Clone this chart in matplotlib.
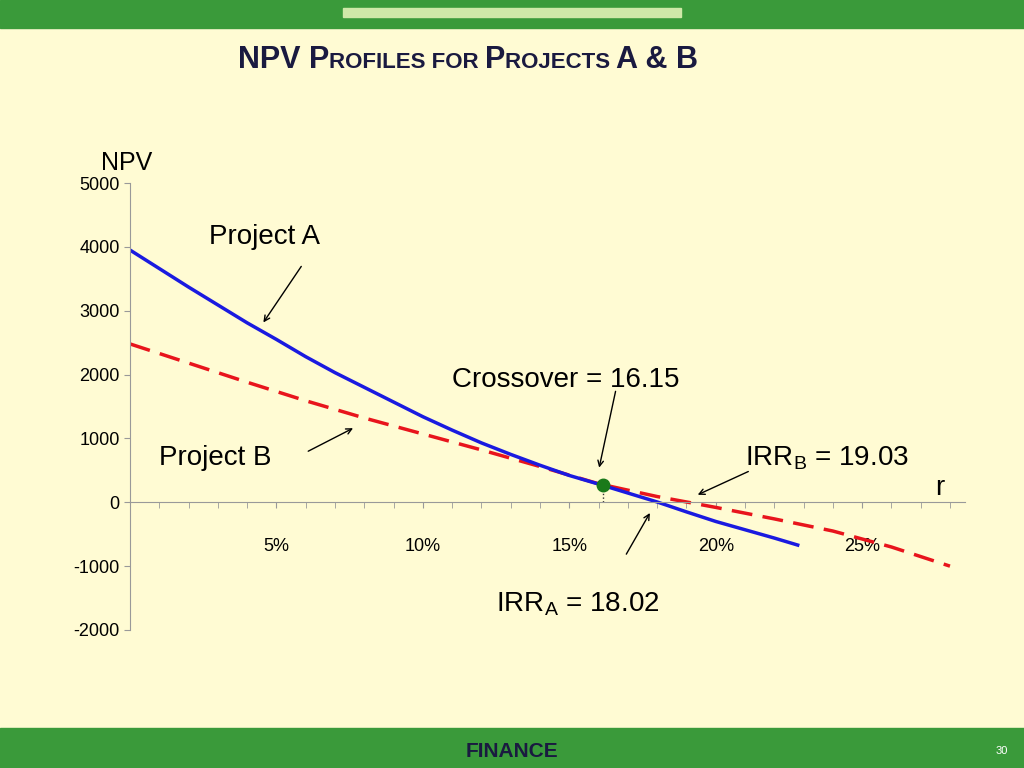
import matplotlib.pyplot as plt
from matplotlib.patches import Rectangle

plt.rcParams["font.family"] = "Liberation Sans"

rate_a = [0, 1, 2, 3, 4, 5, 6, 7, 8, 9, 10, 11, 12, 13, 14, 15, 16, 17, 18, 19, 20, 21, 22, 22.8]
npv_a = [3950, 3660, 3370, 3090, 2810, 2550, 2280, 2030, 1800, 1570, 1340, 1130, 930, 750,
         580, 420, 285, 145, 5, -150, -300, -430, -560, -670]
rate_b = [0, 2, 4, 6, 8, 10, 12, 14, 16, 18, 20, 22, 24, 26, 28]
npv_b = [2480, 2180, 1880, 1590, 1320, 1070, 820, 560, 290, 90, -80, -260, -450, -700, -1000]
crossover = (16.15, 266)
x_ticks = [5, 10, 15, 20, 25]
y_ticks = [-2000, -1000, 0, 1000, 2000, 3000, 4000, 5000]

fig = plt.figure(figsize=(10.24, 7.68), dpi=100)
fig.patch.set_facecolor("#fffbd3")
fig.patches.append(Rectangle((0, 0.963), 1, 0.037, transform=fig.transFigure, color="#3a9a3a"))
fig.patches.append(Rectangle((0, 0), 1, 0.052, transform=fig.transFigure, color="#3a9a3a"))
fig.patches.append(Rectangle((0.335, 0.978), 0.33, 0.012, transform=fig.transFigure, color="#cfe8a8"))

# small-caps title built from pieces
navy = "#1a1a40"
pieces = [("NPV P", 22), ("ROFILES FOR ", 16), ("P", 22), ("ROJECTS ", 16), ("A & B", 22)]
fig.canvas.draw()
x = 0.232
for txt, size in pieces:
    t = fig.text(x, 0.923, txt, fontsize=size, fontweight="bold", color=navy,
                 ha="left", va="baseline", family="DejaVu Sans Condensed" if False else "Liberation Sans")
    t.set_y(0.912)
    bb = t.get_window_extent(renderer=fig.canvas.get_renderer())
    x += bb.width / fig.bbox.width
fig.text(0.5, 0.022, "FINANCE", fontsize=15, fontweight="bold", color=navy, ha="center", va="center")
fig.text(0.978, 0.022, "30", fontsize=8, color="white", ha="center", va="center")

ax = fig.add_axes([0.127, 0.1797, 0.815, 0.582])
ax.set_facecolor("none")
ax.set_xlim(0, 28.5)
ax.set_ylim(-2000, 5000)
for s in ["top", "right"]:
    ax.spines[s].set_visible(False)
ax.spines["bottom"].set_position(("data", 0))
ax.spines["bottom"].set_color("#999999")
ax.spines["left"].set_color("#999999")
ax.set_xticks(range(1, 29), minor=True)
ax.set_xticks(x_ticks)
ax.set_xticklabels([f"{t}%" for t in x_ticks], fontsize=13)
ax.tick_params(axis="x", which="both", direction="out", length=4, color="#999999", pad=22)
ax.set_yticks(y_ticks)
ax.set_yticklabels(y_ticks, fontsize=13)
ax.tick_params(axis="y", length=4, color="#999999")

ax.plot(rate_b, npv_b, color="#e8141c", lw=2.5, ls=(0, (6, 3)))
ax.plot(rate_a, npv_a, color="#1a1ae0", lw=2.5)
ax.plot([crossover[0]] * 2, [0, crossover[1]], color="#333333", lw=1, ls=":")
ax.plot(*crossover, "o", color="#1a7a1a", ms=9, zorder=5)

ax.text(-1.0, 5200, "NPV", fontsize=18)
ax.text(27.5, 120, "r", fontsize=20)
arw = dict(arrowstyle="->", color="black", lw=1)
ax.text(2.7, 4050, "Project A", fontsize=20)
ax.annotate("", xy=(4.5, 2780), xytext=(5.9, 3730), arrowprops=arw)
ax.text(1, 580, "Project B", fontsize=20)
ax.annotate("", xy=(7.7, 1180), xytext=(6, 780), arrowprops=arw)
ax.text(11, 1800, "Crossover = 16.15", fontsize=20)
ax.annotate("", xy=(16.0, 500), xytext=(16.6, 1780), arrowprops=arw)
ax.text(21, 580, "IRR$_\\mathregular{B}$ = 19.03", fontsize=20)
ax.annotate("", xy=(19.3, 100), xytext=(21.2, 500), arrowprops=arw)
ax.text(12.5, -1700, "IRR$_\\mathregular{A}$ = 18.02", fontsize=20)
ax.annotate("", xy=(17.8, -130), xytext=(16.9, -850), arrowprops=arw)

fig.savefig("out.png", dpi=100, facecolor=fig.get_facecolor())
